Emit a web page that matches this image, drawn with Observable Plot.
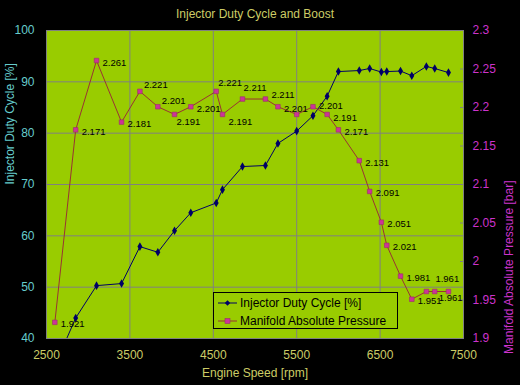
<!DOCTYPE html>
<html><head><meta charset="utf-8">
<script src="https://cdn.jsdelivr.net/npm/d3@7"></script>
<script src="https://cdn.jsdelivr.net/npm/@observablehq/plot@0.6"></script>
<style>
html,body{margin:0;padding:0;background:#000;}
#wrap{position:relative;width:520px;height:385px;}
#legend{position:absolute;left:213px;top:292px;width:185px;height:37px;border:1px solid #000;background:#99CC00;font:12px "Liberation Sans",Arial,sans-serif;color:#000;box-sizing:border-box;}
#legend svg{position:absolute;left:0;top:0;}
</style></head><body><div id="wrap"></div>
<script>
// ---- data ----
const rpm = [2600, 2850, 3100, 3400, 3620, 3835, 4035, 4230, 4535, 4610, 4850, 5125, 5275, 5500, 5695, 5865, 6000, 6250, 6375, 6515, 6580, 6745, 6880, 7055, 7155, 7320];
const dutyCycle = [34.7, 44.0, 50.3, 50.7, 57.9, 56.8, 61.0, 64.5, 66.4, 69.0, 73.5, 73.7, 78.0, 80.4, 83.4, 87.2, 92.0, 92.2, 92.6, 91.9, 92.0, 92.1, 91.2, 93.0, 92.6, 91.8];
const pressure = [1.921, 2.171, 2.261, 2.181, 2.221, 2.201, 2.191, 2.201, 2.221, 2.191, 2.211, 2.211, 2.201, 2.191, 2.201, 2.191, 2.171, 2.131, 2.091, 2.051, 2.021, 1.981, 1.951, 1.961, 1.961, 1.961];
const pressureLabels = ["1.921","2.171","2.261","2.181","2.221","2.201","2.191","2.201","2.221","2.191","2.211","2.211","2.201","","2.201","2.191","2.171","2.131","2.091","2.051","2.021","1.981","1.951","1.961","1.961",""];
const xTicks = [2500, 3500, 4500, 5500, 6500, 7500];
const leftTicks = [40, 50, 60, 70, 80, 90, 100];
const rightTicks = [1.9, 1.95, 2, 2.05, 2.1, 2.15, 2.2, 2.25, 2.3];
const seriesNames = ["Injector Duty Cycle [%]", "Manifold Absolute Pressure"];

// ---- styling ----
const FONT = '"Liberation Sans", Arial, sans-serif';
const GREEN = "#99CC00", GRID = "#808080";
const DUTY = "#000066", PLINE = "#993333", PMARK = "#CC3399";
const CYAN = "#66CCCC", MAG = "#CC33CC", YEL = "#CCCC66";

const pMin = 1.9, pMax = 2.3, lMin = 40, lMax = 100;
const toLeft = p => lMin + (p - pMin) / (pMax - pMin) * (lMax - lMin);
const fromLeft = v => pMin + (v - lMin) / (lMax - lMin) * (pMax - pMin);

const data = rpm.map((r, i) => ({rpm: r, duty: dutyCycle[i], pl: toLeft(pressure[i]), label: pressureLabels[i], i}));

// label placement (pixel offsets) per point index
const offsets = {4:[4,-6], 5:[4,-6], 6:[2,8], 8:[2,-8], 9:[6,8], 10:[1,-11], 11:[6,-4], 14:[6,-1], 15:[6,4], 23:[9,-13], 24:[4,6]};
const groups = d3.groups(data.filter(d => d.label), d => (offsets[d.i] || [6,2]).join(","));
const labelMarks = groups.map(([k, arr]) => {
  const [dx, dy] = k.split(",").map(Number);
  return Plot.text(arr, {x: "rpm", y: "pl", text: "label", textAnchor: "start", dx, dy, fill: "#000", fontSize: 9.5, style: "letter-spacing:-0.4px"});
});

const chart = Plot.plot({
  width: 520, height: 385,
  marginLeft: 46, marginRight: 57, marginTop: 30, marginBottom: 47,
  style: {background: "#000", fontFamily: FONT, fontSize: "12px", overflow: "visible"},
  x: {domain: [2500, 7500]},
  y: {domain: [lMin, lMax]},
  marks: [
    Plot.frame({fill: GREEN}),
    Plot.gridX(xTicks.slice(1, -1), {stroke: GRID, strokeOpacity: 1}),
    Plot.gridY(leftTicks.slice(1, -1), {stroke: GRID, strokeOpacity: 1}),
    Plot.frame({stroke: GRID}),
    Plot.axisX(xTicks, {tickSize: 0, tickPadding: 12, fill: YEL, fontSize: 12, label: null, tickFormat: d => String(d)}),
    Plot.axisY(leftTicks, {tickSize: 0, tickPadding: 12, fill: CYAN, fontSize: 12, label: null, tickFormat: d => String(d)}),
    Plot.axisY(rightTicks.map(toLeft), {anchor: "right", tickSize: 4, dx: -4, tickPadding: 9, stroke: GRID, fill: MAG, fontSize: 12, label: null,
      tickFormat: d => String(+fromLeft(d).toFixed(2))}),
    Plot.line(data, {x: "rpm", y: "duty", stroke: DUTY, strokeWidth: 1, clip: true}),
    Plot.dot(data, {x: "rpm", y: "duty", symbol: "diamond", r: 2.6, fill: DUTY, clip: true}),
    Plot.line(data, {x: "rpm", y: "pl", stroke: PLINE, strokeWidth: 1, clip: true}),
    Plot.dot(data, {x: "rpm", y: "pl", symbol: "square", r: 2.6, fill: PMARK, stroke: "#993366", strokeWidth: 0.6}),
    ...labelMarks,
    Plot.text(["Injector Duty Cycle and Boost"], {frameAnchor: "top", dy: -21, fill: YEL, fontSize: 12}),
    Plot.text(["Engine Speed [rpm]"], {frameAnchor: "bottom", dy: 38.5, fill: YEL, fontSize: 12}),
    Plot.text(["Injector Duty Cycle [%]"], {frameAnchor: "left", dx: -36, rotate: -90, fill: CYAN, fontSize: 12}),
    Plot.text(["Manifold Absolute Pressure [bar]"], {frameAnchor: "right", dx: 46, dy: -4, rotate: -90, fill: MAG, fontSize: 12})
  ]
});
const wrap = document.getElementById("wrap");
wrap.appendChild(chart);

// legend
const leg = document.createElement("div");
leg.id = "legend";
leg.innerHTML = `<svg width="185" height="37">
  <line x1="4" x2="23" y1="10" y2="10" stroke="${DUTY}" stroke-width="1"/>
  <path d="M13.5,7.3 L16.2,10 L13.5,12.7 L10.8,10 Z" fill="${DUTY}"/>
  <text x="26" y="10" dy="0.35em" font-family='${FONT}' font-size="12">${seriesNames[0]}</text>
  <line x1="4" x2="23" y1="28" y2="28" stroke="${PLINE}" stroke-width="1"/>
  <rect x="11" y="25.5" width="5" height="5" fill="${PMARK}" stroke="#993366" stroke-width="0.6"/>
  <text x="26" y="28" dy="0.35em" font-family='${FONT}' font-size="12">${seriesNames[1]}</text>
</svg>`;
wrap.appendChild(leg);
</script>
</body></html>
